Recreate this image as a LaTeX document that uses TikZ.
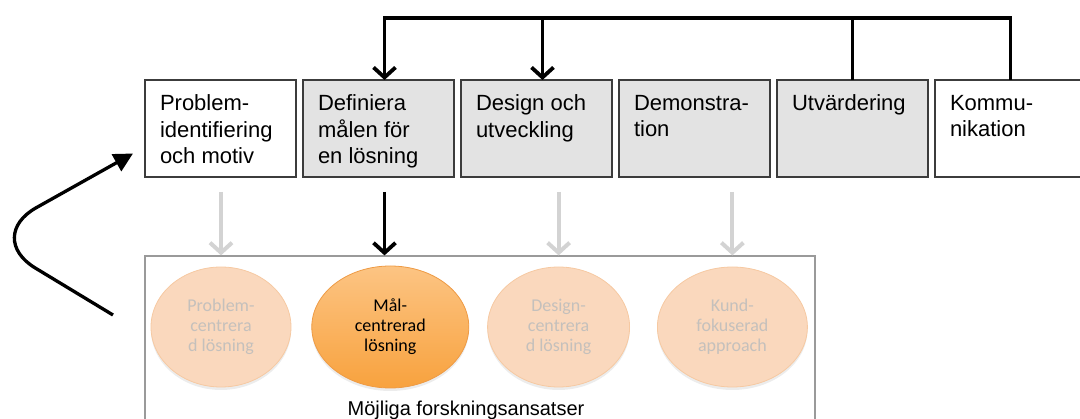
\documentclass[tikz,border=0pt]{standalone}
\usepackage{fontspec}
\setmainfont{Liberation Sans}
\newfontfamily\ellipsefont{Carlito}
\usetikzlibrary{positioning}
\usetikzlibrary{shapes.geometric}
\usetikzlibrary{arrows.meta}
\usetikzlibrary{shadows}
\definecolor{boxgray}{HTML}{E3E3E3}
\definecolor{boxline}{HTML}{3C3C3C}
\definecolor{frameline}{HTML}{9A9A9A}
\definecolor{paleorange}{HTML}{FAD8BD}
\definecolor{paleedge}{HTML}{F6C9A2}
\definecolor{paletext}{HTML}{C4C0BC}
\definecolor{orangetop}{HTML}{FCC483}
\definecolor{orangebottom}{HTML}{F8A23E}
\definecolor{orangeedge}{HTML}{EE9B45}
\definecolor{arrowgray}{HTML}{D3D3D3}
\newcommand{\phasetext}[1]{\parbox[t][73pt][t]{121pt}{\vspace*{3pt}#1}}
\begin{document}
\begin{tikzpicture}[
                x=1pt, y=-1pt,
                phase/.style = {
                    draw=boxline,
                    line width=1.3pt,
                    inner xsep=15pt,
                    inner ysep=12pt,
                    outer sep=0pt,
                    font=\fontsize{22}{26.5}\selectfont
                },
                approach/.style = {
                    ellipse,
                    draw=paleedge,
                    line width=0.8pt,
                    fill=paleorange,
                    text=paletext,
                    align=center,
                    inner sep=0pt,
                    minimum width=#1,
                    minimum height=120pt,
                    font=\ellipsefont\fontsize{18}{20}\selectfont,
                    drop shadow={opacity=0.15, shadow xshift=0pt, shadow yshift=-3pt}
                },
                approach/.default = 140pt,
                goal/.style = {
                    approach=157pt,
                    draw=orangeedge,
                    top color=orangetop,
                    bottom color=orangebottom,
                    text=black,
                    minimum height=122pt
                },
                link/.style = {line width=3.8pt, black},
                tip/.style = {-{Straight Barb[length=10pt, width=22pt]}},
                faint/.style = {line width=4pt, arrowgray, tip, shorten <=15pt}
            ]
            \clip (0,0) rectangle (1080,419);
            % 
            \node[phase] (b1) at (220.5,128.5) {\phasetext{Problem-\\identifiering\\och motiv}};
            \node[phase, fill=boxgray, right=7pt of b1] (b2) {\phasetext{Definiera\\målen för\\en lösning}};
            \node[phase, fill=boxgray, right=7pt of b2] (b3) {\phasetext{Design och\\utveckling}};
            \node[phase, fill=boxgray, right=7pt of b3] (b4) {\phasetext{Demonstra-\\tion}};
            \node[phase, fill=boxgray, right=7pt of b4] (b5) {\phasetext{Utvärdering}};
            \node[phase, right=7pt of b5] (b6) {\phasetext{Kommu-\\nikation}};
            % 
            \node[draw=frameline, line width=1.2pt, minimum width=670pt, minimum height=200pt] (frame) at (480,356) {};
            % 
            \node[approach] (e1) at (221,327) {Problem-\\centrera\\d lösning};
            \node[goal, right=20pt of e1] (e2) {Mål-\\centrerad\\lösning};
            \node[approach=142pt, right=18pt of e2] (e3) {Design-\\centrera\\d lösning};
            \node[approach=150pt, right=27pt of e3] (e4) {Kund-\\fokuserad\\approach};
            % 
            \node[font=\fontsize{20}{24}\selectfont, anchor=base] (caption) at (466,416) {Möjliga forskningsansatser};
            % 
            \coordinate (bus) at (0,18);
            \draw[link, tip] (b6.north) -- (b6.north |- bus) -| ([xshift=6pt]b2.north);
            \draw[link] (b5.north) -- (b5.north |- bus);
            \draw[link, tip] ([xshift=6pt]b3.north |- bus) -- ([xshift=6pt]b3.north);
            % 
            \draw[faint] (b1.south -| e1.center) -- (e1.center |- frame.north);
            \draw[link, tip, shorten <=15pt] ([xshift=6pt]b2.south) -- ([xshift=6pt]b2.south |- frame.north);
            \draw[faint] (b3.south -| e3.center) -- (e3.center |- frame.north);
            \draw[faint] (b4.south -| e4.center) -- (e4.center |- frame.north);
            % 
            \coordinate (loop) at (113,315);
            \coordinate (bend) at (-16,237);
            \draw[line width=3.3pt, rounded corners=60pt, -{Triangle[length=19pt, width=19pt]}] (loop) -- (bend) -- ([xshift=-12pt, yshift=-25pt]b1.west);
            % 
        \end{tikzpicture}
\end{document}
